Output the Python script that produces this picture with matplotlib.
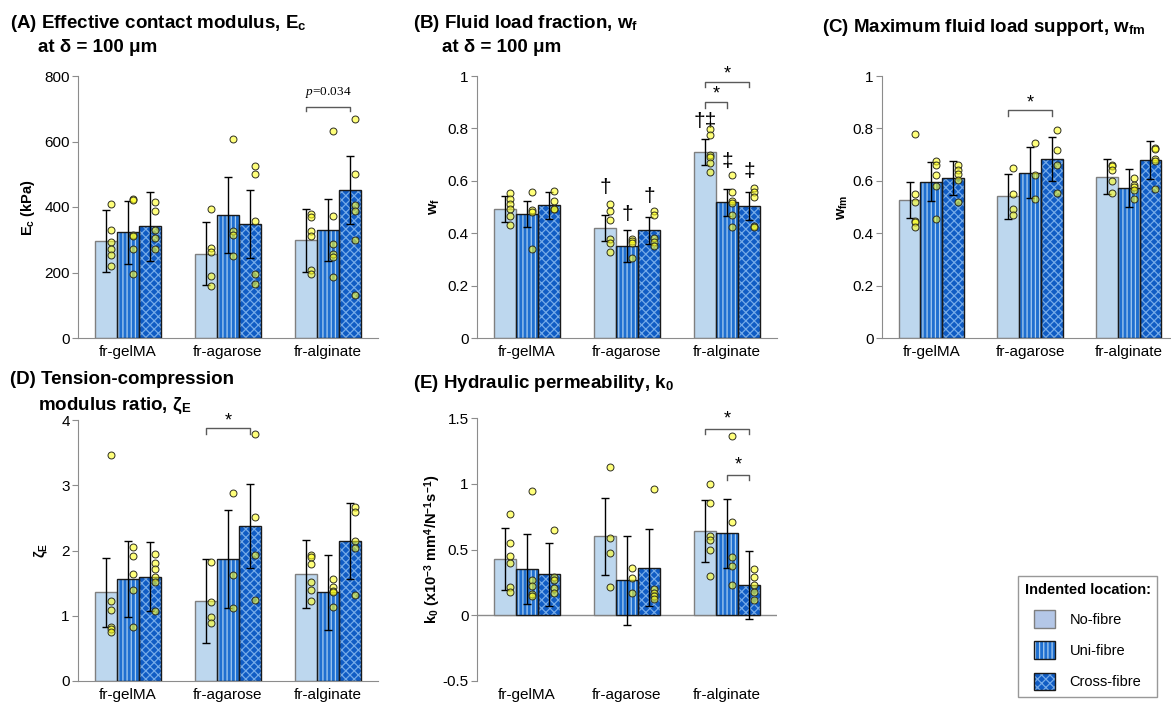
import matplotlib
matplotlib.use("Agg")
import matplotlib.pyplot as plt
from matplotlib.patches import Patch
import numpy as np

plt.rcParams['font.family'] = ['Liberation Sans', 'DejaVu Sans']
plt.rcParams['mathtext.fontset'] = 'custom'
plt.rcParams['mathtext.rm'] = 'Liberation Sans'
plt.rcParams['mathtext.bf'] = 'Liberation Sans:bold'
plt.rcParams['mathtext.it'] = 'Liberation Serif:italic'
plt.rcParams['hatch.linewidth'] = 0.9

# ---------------- data ----------------
categories = ["fr-gelMA", "fr-agarose", "fr-alginate"]
locations = ["No-fibre", "Uni-fibre", "Cross-fibre"]

# (A) Effective contact modulus Ec (kPa)
ec_mean = {"No-fibre": [297, 258, 299], "Uni-fibre": [323, 376, 330], "Cross-fibre": [341, 348, 452]}
ec_sd = {"No-fibre": [95, 96, 96], "Uni-fibre": [96, 117, 95], "Cross-fibre": [105, 104, 105]}
ec_pts = {
    "No-fibre": [[408, 330, 294, 271, 253, 221], [394, 274, 262, 189, 158], [380, 369, 328, 311, 208, 194]],
    "Uni-fibre": [[425, 422, 313, 310, 271, 196], [609, 328, 315, 249], [633, 371, 288, 256, 247, 185]],
    "Cross-fibre": [[415, 387, 330, 304, 271], [525, 501, 356, 195, 165], [668, 502, 405, 388, 300, 130]],
}

# (B) Fluid load fraction wf
wf_mean = {"No-fibre": [0.492, 0.419, 0.710], "Uni-fibre": [0.473, 0.352, 0.518], "Cross-fibre": [0.506, 0.411, 0.504]}
wf_sd = {"No-fibre": [0.049, 0.050, 0.050], "Uni-fibre": [0.050, 0.062, 0.051], "Cross-fibre": [0.053, 0.052, 0.054]}
wf_pts = {
    "No-fibre": [[0.554, 0.532, 0.513, 0.494, 0.465, 0.431], [0.513, 0.484, 0.451, 0.378, 0.363, 0.329],
                 [0.796, 0.775, 0.699, 0.690, 0.667, 0.632]],
    "Uni-fibre": [[0.559, 0.488, 0.482, 0.340], [0.376, 0.371, 0.363, 0.304],
                  [0.622, 0.559, 0.522, 0.516, 0.468, 0.422]],
    "Cross-fibre": [[0.562, 0.524, 0.494, 0.493], [0.485, 0.470, 0.381, 0.366, 0.350],
                    [0.572, 0.557, 0.540, 0.428, 0.423]],
}
wf_marks = {"No-fibre": ["", "†", "†‡"], "Uni-fibre": ["", "†", "‡"], "Cross-fibre": ["", "†", "‡"]}
wf_mark_y = {"No-fibre": [0, 0.573, 0.828], "Uni-fibre": [0, 0.471, 0.673], "Cross-fibre": [0, 0.541, 0.634]}

# (C) Maximum fluid load support wfm
wfm_mean = {"No-fibre": [0.527, 0.541, 0.615], "Uni-fibre": [0.597, 0.631, 0.573], "Cross-fibre": [0.611, 0.682, 0.678]}
wfm_sd = {"No-fibre": [0.068, 0.085, 0.067], "Uni-fibre": [0.074, 0.097, 0.073], "Cross-fibre": [0.066, 0.084, 0.073]}
wfm_pts = {
    "No-fibre": [[0.777, 0.550, 0.520, 0.448, 0.442, 0.423], [0.648, 0.550, 0.494, 0.471],
                 [0.660, 0.656, 0.642, 0.599, 0.553]],
    "Uni-fibre": [[0.676, 0.661, 0.623, 0.582, 0.456], [0.744, 0.622, 0.529],
                  [0.610, 0.585, 0.577, 0.564, 0.531]],
    "Cross-fibre": [[0.661, 0.643, 0.627, 0.603, 0.520], [0.792, 0.716, 0.661, 0.554],
                    [0.725, 0.721, 0.682, 0.674, 0.569]],
}

# (D) Tension-compression modulus ratio zeta_E
ze_mean = {"No-fibre": [1.359, 1.226, 1.635], "Uni-fibre": [1.568, 1.870, 1.359], "Cross-fibre": [1.599, 2.375, 2.146]}
ze_sd = {"No-fibre": [0.53, 0.646, 0.52], "Uni-fibre": [0.58, 0.746, 0.574], "Cross-fibre": [0.526, 0.64, 0.577]}
ze_pts = {
    "No-fibre": [[3.469, 1.231, 1.088, 0.833, 0.802, 0.756], [1.824, 1.216, 0.981, 0.884],
                 [1.936, 1.900, 1.793, 1.517, 1.395, 1.231]],
    "Uni-fibre": [[2.049, 1.921, 1.645, 1.395, 0.833], [2.876, 1.624, 1.124],
                  [1.558, 1.441, 1.374, 1.359, 1.129]],
    "Cross-fibre": [[1.941, 1.803, 1.711, 1.589, 1.522, 1.073], [3.780, 2.518, 1.936, 1.241],
                    [2.667, 2.585, 2.141, 2.043, 1.318]],
}

# (E) Hydraulic permeability k0
k0_mean = {"No-fibre": [0.426, 0.599, 0.640], "Uni-fibre": [0.350, 0.266, 0.624], "Cross-fibre": [0.312, 0.360, 0.228]}
k0_sd = {"No-fibre": [0.235, 0.295, 0.237], "Uni-fibre": [0.265, 0.34, 0.262], "Cross-fibre": [0.24, 0.293, 0.26]}
k0_pts = {
    "No-fibre": [[0.769, 0.546, 0.452, 0.401, 0.218, 0.175], [1.129, 0.586, 0.472, 0.218],
                 [0.995, 0.853, 0.604, 0.571, 0.500, 0.299]],
    "Uni-fibre": [[0.942, 0.265, 0.226, 0.165, 0.145], [0.358, 0.282, 0.168],
                  [1.363, 0.708, 0.444, 0.373, 0.231]],
    "Cross-fibre": [[0.645, 0.289, 0.269, 0.206, 0.168], [0.957, 0.198, 0.168, 0.150, 0.122],
                    [0.355, 0.289, 0.228, 0.175, 0.117]],
}

# ---------------- styles ----------------
W, H = 1171, 705
fig = plt.figure(figsize=(W / 100, H / 100), dpi=100)

styles = {
    "No-fibre": dict(face="#BDD7EE", hatch=None, hcol=None, edge="#7F7F7F"),
    "Uni-fibre": dict(face="#1F6FD0", hatch="||||", hcol="#A9CDF0", edge="#1A1A1A"),
    "Cross-fibre": dict(face="#105CC4", hatch="xxxx", hcol="#74AAE8", edge="#1A1A1A"),
}
offsets = {"No-fibre": -0.22, "Uni-fibre": 0.0, "Cross-fibre": 0.22}
BW = 0.22
PT_DX = 0.05


def px_axes(l, r, t, b):
    return fig.add_axes([l / W, 1 - b / H, (r - l) / W, (b - t) / H])


def draw_panel(ax, mean, sd, pts, ylim, yticks, zero_line=False):
    x = np.arange(len(categories))
    for loc in locations:
        st = styles[loc]
        xs = x + offsets[loc]
        if st["hatch"]:
            ax.bar(xs, mean[loc], BW, color=st["face"], hatch=st["hatch"],
                   edgecolor=st["hcol"], linewidth=0, zorder=2)
        else:
            ax.bar(xs, mean[loc], BW, color=st["face"], linewidth=0, zorder=2)
        ax.bar(xs, mean[loc], BW, fill=False, edgecolor=st["edge"], linewidth=1.0, zorder=3)
        ax.errorbar(xs, mean[loc], yerr=sd[loc], fmt='none', ecolor='black',
                    elinewidth=1.0, capsize=2.8, capthick=1.0, zorder=4)
        for i, vals in enumerate(pts[loc]):
            ax.plot([xs[i] + PT_DX] * len(vals), vals, 'o', ms=5.0,
                    mfc=(1.0, 1.0, 0.1, 0.58), mec='#2E2E22', mew=0.7, zorder=5)
    ax.set_xlim(-0.5, len(categories) - 0.5)
    ax.set_ylim(*ylim)
    ax.set_yticks(yticks)
    ax.set_yticklabels([f"{v:g}" for v in yticks])
    ax.set_xticks(x)
    ax.set_xticklabels(categories)
    for s in ["top", "right"]:
        ax.spines[s].set_visible(False)
    ax.spines["left"].set_color("#8C8C8C")
    ax.spines["bottom"].set_color("#8C8C8C")
    ax.tick_params(axis='y', length=4, width=0.8, color="#8C8C8C", labelsize=11, pad=2)
    ax.tick_params(axis='x', length=0, labelsize=11, pad=5)
    if zero_line:
        ax.spines["bottom"].set_visible(False)
        ax.axhline(0, color="#8C8C8C", lw=1.0, zorder=1)


def bracket(ax, g, loc1, loc2, y, drop, text, ts=13, ty=None, **kw):
    x1 = g + offsets[loc1]
    x2 = g + offsets[loc2]
    ax.plot([x1, x1, x2, x2], [y - drop, y, y, y - drop], color="#5A5A5A", lw=1.0,
            clip_on=False, zorder=6)
    ax.text((x1 + x2) / 2, ty if ty is not None else y, text, ha='center', va='center',
            fontsize=ts, clip_on=False, **kw)


# ---- Panel A ----
axA = px_axes(78, 378, 76, 338)
draw_panel(axA, ec_mean, ec_sd, ec_pts, (0, 800), [0, 200, 400, 600, 800])
axA.set_ylabel("E$_\\mathbf{c}$ (kPa)", fontsize=10.5, fontweight='bold', labelpad=5)
bracket(axA, 2, "No-fibre", "Cross-fibre", 706, 13, "$\\mathit{p}$=0.034", ts=9.5, ty=750,
        family='Liberation Serif')

# ---- Panel B ----
axB = px_axes(477, 777, 76, 338)
draw_panel(axB, wf_mean, wf_sd, wf_pts, (0, 1), [0, 0.2, 0.4, 0.6, 0.8, 1])
axB.set_ylabel("w$_\\mathbf{f}$", fontsize=10.5, fontweight='bold', labelpad=4)
for loc in locations:
    for i, m in enumerate(wf_marks[loc]):
        if m:
            axB.text(i + offsets[loc], wf_mark_y[loc][i], m, ha='center', va='center', fontsize=15)
bracket(axB, 2, "No-fibre", "Uni-fibre", 0.900, 0.021, "*", ty=0.930)
bracket(axB, 2, "No-fibre", "Cross-fibre", 0.978, 0.020, "*", ty=1.008)

# ---- Panel C ----
axC = px_axes(882, 1178, 76, 338)
draw_panel(axC, wfm_mean, wfm_sd, wfm_pts, (0, 1), [0, 0.2, 0.4, 0.6, 0.8, 1])
axC.set_ylabel("w$_\\mathbf{fm}$", fontsize=10.5, fontweight='bold', labelpad=2)
bracket(axC, 1, "No-fibre", "Cross-fibre", 0.869, 0.022, "*", ty=0.898)

# ---- Panel D ----
axD = px_axes(78, 378, 420, 681)
draw_panel(axD, ze_mean, ze_sd, ze_pts, (0, 4), [0, 1, 2, 3, 4])
axD.set_ylabel("ζ$_\\mathbf{E}$", fontsize=10.5, fontweight='bold', labelpad=8)
bracket(axD, 1, "No-fibre", "Cross-fibre", 3.872, 0.087, "*", ty=3.99)

# ---- Panel E ----
axE = px_axes(477, 777, 418, 681)
draw_panel(axE, k0_mean, k0_sd, k0_pts, (-0.5, 1.5), [-0.5, 0, 0.5, 1, 1.5], zero_line=True)
axE.set_ylabel("k$_\\mathbf{0}$ (x10$^\\mathbf{-3}$ mm$^\\mathbf{4}$/N$^\\mathbf{-1}$s$^\\mathbf{-1}$)",
               fontsize=10.5, fontweight='bold', labelpad=0)
bracket(axE, 2, "No-fibre", "Cross-fibre", 1.419, 0.038, "*", ty=1.495)
bracket(axE, 2, "Uni-fibre", "Cross-fibre", 1.068, 0.038, "*", ty=1.145)

# ---- Titles ----
TS = 13.5
def title(xp, yp, s):
    fig.text(xp / W, 1 - yp / H, s, fontsize=TS, fontweight='bold', ha='left', va='center')

title(10, 24, "(A) Effective contact modulus, E$_\\mathbf{c}$")
title(38, 47, "at δ = 100 μm")
title(413, 24, "(B) Fluid load fraction, w$_\\mathbf{f}$")
title(442, 47, "at δ = 100 μm")
title(822, 28, "(C) Maximum fluid load support, w$_\\mathbf{fm}$")
title(10, 380, "(D) Tension-compression")
title(38, 406, "modulus ratio, ζ$_\\mathbf{E}$")
title(413, 383, "(E) Hydraulic permeability, k$_\\mathbf{0}$")

# ---- Legend ----
handles = []
for loc in locations:
    st = styles[loc]
    if st["hatch"]:
        h = (Patch(facecolor=st["face"], hatch=st["hatch"], edgecolor=st["hcol"], linewidth=0),
             Patch(fill=False, edgecolor=st["edge"], linewidth=1.0))
    else:
        h = Patch(facecolor="#B4C7E7", edgecolor=st["edge"], linewidth=1.0)
    handles.append(h)
leg = fig.legend(handles, locations, loc='upper left',
                 bbox_to_anchor=(1011 / W, 1 - 569 / H), fontsize=10.5,
                 title="Indented location:", title_fontproperties={'weight': 'bold', 'size': 10.5},
                 handlelength=1.4, handleheight=1.5, labelspacing=0.92, handletextpad=1.0,
                 borderpad=0.45, frameon=True, fancybox=False, edgecolor="#7F7F7F")
leg.get_frame().set_linewidth(1.0)

fig.savefig("out.png", dpi=100)
